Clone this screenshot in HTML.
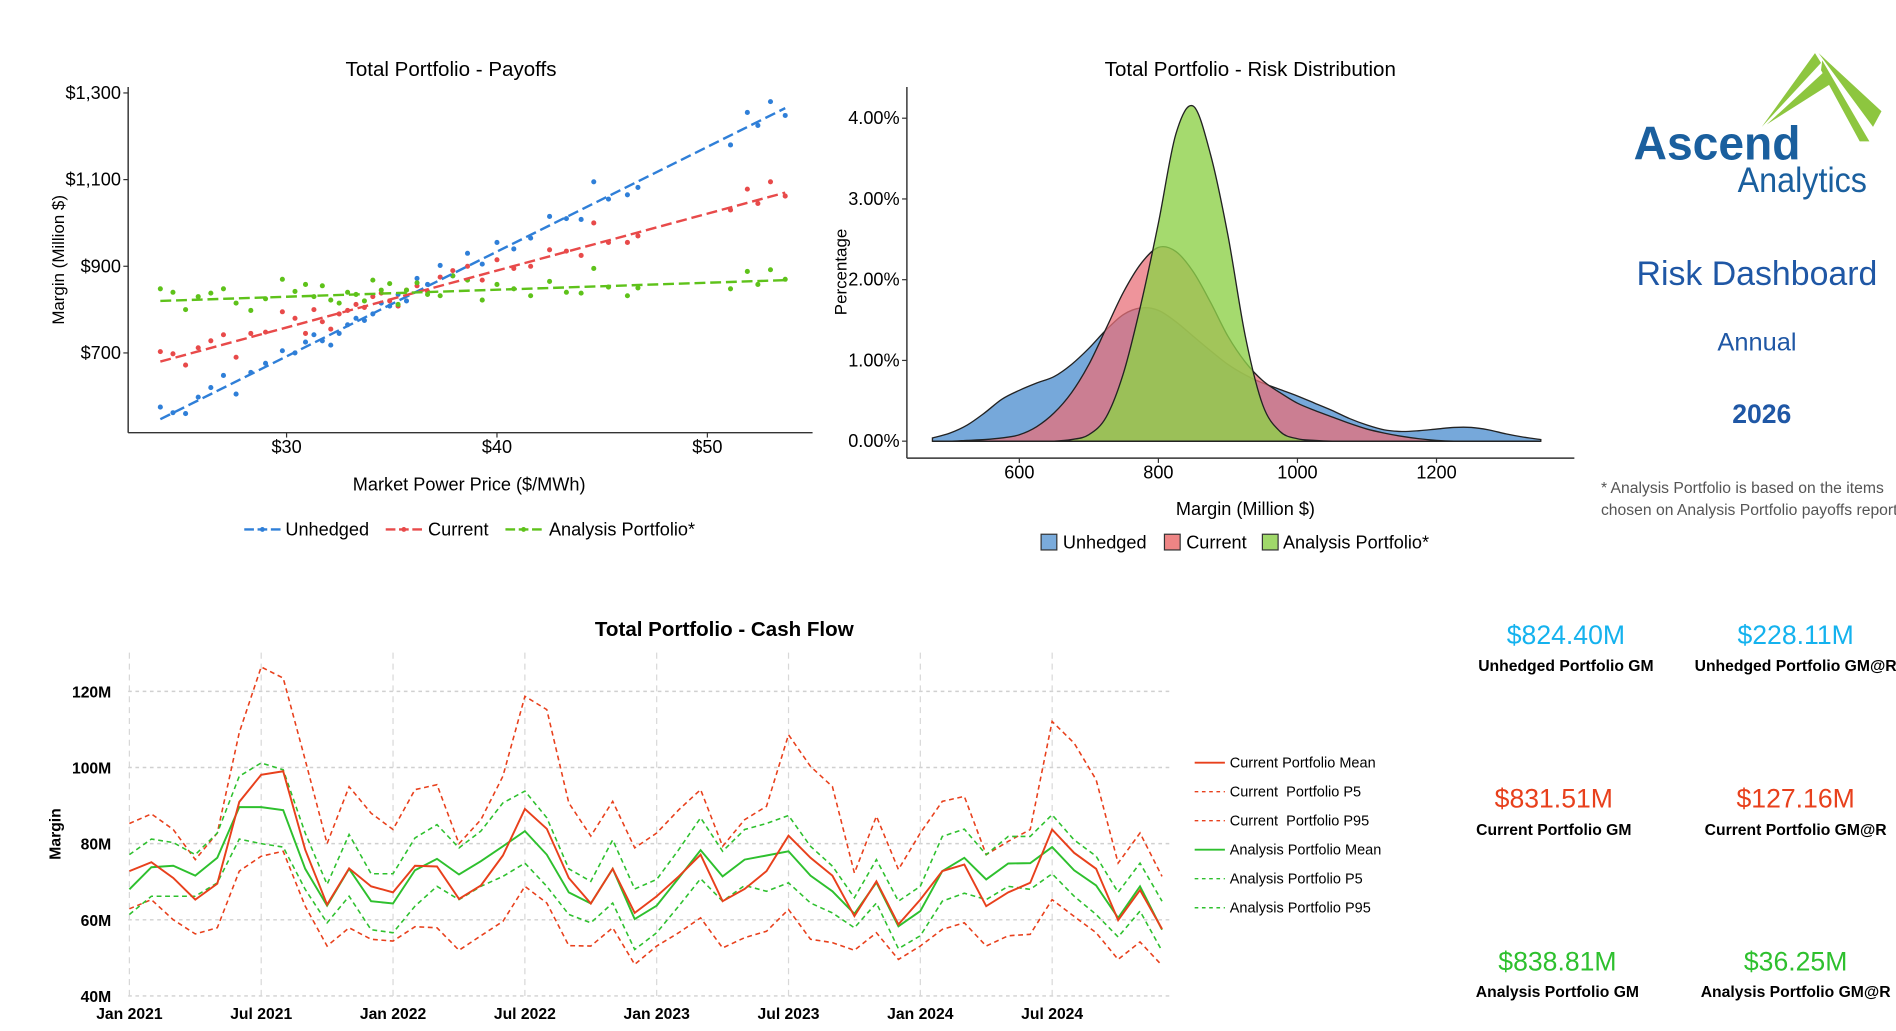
<!DOCTYPE html>
<html><head><meta charset="utf-8"><style>
html,body{margin:0;padding:0;background:#fff;}
svg{display:block;font-family:"Liberation Sans",sans-serif;}
.n{font-family:"Liberation Sans Narrow","Liberation Sans",sans-serif;}
</style></head><body>
<svg id="root" width="1896" height="1031" viewBox="0 0 1568 853" preserveAspectRatio="none">
<rect width="1568" height="853" fill="#fff"/>
<g id="payoffs">
  <text class="n" x="373" y="63" font-size="17" text-anchor="middle">Total Portfolio - Payoffs</text>
  <line x1="106" y1="72" x2="106" y2="358" stroke="#333" stroke-width="1.2"/>
  <line x1="106" y1="358" x2="672" y2="358" stroke="#333" stroke-width="1.2"/>
  <text x="53" y="215" font-size="14" text-anchor="middle" transform="rotate(-90 53 215)">Margin (Million $)</text>
  <text class="n" x="388" y="406" font-size="15" text-anchor="middle">Market Power Price ($/MWh)</text>
  <g>
    <g><line x1="202" y1="438" x2="232" y2="438" stroke="#2f7fd8" stroke-width="2" stroke-dasharray="8 3"/><circle cx="217" cy="438" r="2" fill="#2f7fd8"/><text class="n" x="236" y="443" font-size="15">Unhedged</text></g>
    <g><line x1="319" y1="438" x2="349" y2="438" stroke="#e84a4a" stroke-width="2" stroke-dasharray="8 3"/><circle cx="334" cy="438" r="2" fill="#e84a4a"/><text class="n" x="354" y="443" font-size="15">Current</text></g>
    <g><line x1="418" y1="438" x2="448" y2="438" stroke="#5ec21a" stroke-width="2" stroke-dasharray="8 3"/><circle cx="433" cy="438" r="2" fill="#5ec21a"/><text class="n" x="454" y="443" font-size="15">Analysis Portfolio*</text></g>
  </g>
</g>
<g id="risk">
  <text class="n" x="1034" y="63" font-size="17" text-anchor="middle">Total Portfolio - Risk Distribution</text>
  <text x="700" y="225" font-size="14" text-anchor="middle" transform="rotate(-90 700 225)">Percentage</text>
  <text class="n" x="1030" y="426" font-size="15" text-anchor="middle">Margin (Million $)</text>
  <g>
    <g><rect x="861" y="442" width="13" height="13" fill="#7aabdb" stroke="#333"/><text class="n" x="879" y="454" font-size="15">Unhedged</text></g>
    <g><rect x="963" y="442" width="13" height="13" fill="#ee8585" stroke="#333"/><text class="n" x="981" y="454" font-size="15">Current</text></g>
    <g><rect x="1044" y="442" width="13" height="13" fill="#a0d86a" stroke="#333"/><text class="n" x="1061" y="454" font-size="15">Analysis Portfolio*</text></g>
  </g>
</g>
<g id="cash">
  <text class="n" x="599" y="526" font-size="17" font-weight="bold" text-anchor="middle">Total Portfolio - Cash Flow</text>
  <text x="50" y="690" font-size="13" font-weight="bold" text-anchor="middle" transform="rotate(-90 50 690)">Margin</text>
</g>
<g font-size="12">
  <g><line x1="988" y1="631" x2="1013" y2="631" stroke="#e8401c" stroke-width="1.5"/><text x="1017" y="635">Current Portfolio Mean</text></g>
  <g><line x1="988" y1="655" x2="1013" y2="655" stroke="#e8401c" stroke-width="1.2" stroke-dasharray="3 3"/><text x="1017" y="659" xml:space="preserve">Current  Portfolio P5</text></g>
  <g><line x1="988" y1="679" x2="1013" y2="679" stroke="#e8401c" stroke-width="1.2" stroke-dasharray="3 3"/><text x="1017" y="683" xml:space="preserve">Current  Portfolio P95</text></g>
  <g><line x1="988" y1="703" x2="1013" y2="703" stroke="#2ec02e" stroke-width="1.5"/><text x="1017" y="707">Analysis Portfolio Mean</text></g>
  <g><line x1="988" y1="727" x2="1013" y2="727" stroke="#2ec02e" stroke-width="1.2" stroke-dasharray="3 3"/><text x="1017" y="731">Analysis Portfolio P5</text></g>
  <g><line x1="988" y1="751" x2="1013" y2="751" stroke="#2ec02e" stroke-width="1.2" stroke-dasharray="3 3"/><text x="1017" y="755">Analysis Portfolio P95</text></g>
</g>
<g>
  <polygon points="1457,105 1501,44 1506,52" fill="#8dc63f"/>
  <polygon points="1461,103 1509,59 1513,70" fill="#8dc63f"/>
  <polygon points="1504,44 1556,92 1549,105" fill="#8dc63f"/>
  <polygon points="1507,50 1546,117 1538,117 1506,58" fill="#8dc63f"/>
  <text x="1351" y="132" font-size="39" font-weight="bold" fill="#1a5f9e" textLength="138" lengthAdjust="spacingAndGlyphs">Ascend</text>
  <text x="1437" y="159" font-size="29" fill="#1a5f9e" textLength="107" lengthAdjust="spacingAndGlyphs">Analytics</text>
</g>
<text x="1453" y="236" font-size="28" fill="#1f57a5" text-anchor="middle">Risk Dashboard</text>
<text x="1453" y="290" font-size="21" fill="#1f57a5" text-anchor="middle">Annual</text>
<text x="1457" y="350" font-size="22" font-weight="bold" fill="#1f57a5" text-anchor="middle">2026</text>
<text x="1324" y="408" font-size="13" fill="#555">* Analysis Portfolio is based on the items</text>
<text x="1324" y="426" font-size="13" fill="#555">chosen on Analysis Portfolio payoffs report</text>
<g text-anchor="middle">
  <text x="1295" y="533" font-size="22" fill="#14b2ee">$824.40M</text>
  <text x="1295" y="555" font-size="13" font-weight="bold">Unhedged Portfolio GM</text>
  <text x="1485" y="533" font-size="22" fill="#14b2ee">$228.11M</text>
  <text x="1485" y="555" font-size="13" font-weight="bold">Unhedged Portfolio GM@R</text>
  <text x="1285" y="668" font-size="22" fill="#e8401c">$831.51M</text>
  <text x="1285" y="691" font-size="13" font-weight="bold">Current Portfolio GM</text>
  <text x="1485" y="668" font-size="22" fill="#e8401c">$127.16M</text>
  <text x="1485" y="691" font-size="13" font-weight="bold">Current Portfolio GM@R</text>
  <text x="1288" y="803" font-size="22" fill="#2ec02e">$838.81M</text>
  <text x="1288" y="825" font-size="13" font-weight="bold">Analysis Portfolio GM</text>
  <text x="1485" y="803" font-size="22" fill="#2ec02e">$36.25M</text>
  <text x="1485" y="825" font-size="13" font-weight="bold">Analysis Portfolio GM@R</text>
</g>
</svg>
<script>
// ---------- Payoffs data ----------
const payPrices = [24.0,24.6,25.2,25.8,26.4,27.0,27.6,28.3,29.0,29.8,30.4,30.9,31.3,31.7,32.1,32.5,32.9,33.3,33.7,34.1,34.5,34.9,35.3,35.7,36.2,36.7,37.3,37.9,38.6,39.3,40.0,40.8,41.6,42.5,43.3,44.0,44.6,45.3,46.2,46.7,51.1,51.9,52.4,53.0,53.7];
const payUnhedged = [575,562,560,598,620,648,605,655,676,705,700,725,742,728,718,745,765,780,775,790,815,808,835,820,872,858,902,878,930,905,955,940,965,1015,1010,1008,1095,1055,1065,1082,1180,1255,1225,1280,1248];
const payCurrent = [703,698,672,712,728,742,690,745,748,795,780,745,800,772,755,790,798,812,805,830,838,820,808,845,855,842,875,890,900,868,915,895,900,938,935,925,1000,955,955,970,1030,1078,1045,1095,1062];
const payAnalysis = [848,840,800,830,838,848,815,798,825,870,842,858,830,855,822,815,840,835,820,868,845,860,812,845,862,835,832,878,868,822,858,848,832,865,840,838,895,852,832,850,848,888,858,892,870];
const trendPriceRange = [24, 53.7];
const trendStart = [547, 680, 820];
const trendEnd = [1265, 1070, 868];
const payYTicks = [700, 900, 1100, 1300];
const payYTickLabels = ["$700","$900","$1,100","$1,300"];
const payXTicks = [30, 40, 50];
const payXTickLabels = ["$30","$40","$50"];

// ---------- Risk density data ----------
const riskGrid = [475,500,525,550,575,600,625,650,675,700,725,750,775,800,825,850,875,900,925,950,975,1000,1025,1050,1075,1100,1125,1150,1175,1200,1225,1250,1275,1300,1325,1350];
const densUnhedged = [0.04,0.1,0.2,0.35,0.52,0.63,0.72,0.8,0.95,1.15,1.38,1.57,1.65,1.62,1.48,1.3,1.12,0.95,0.82,0.72,0.64,0.56,0.47,0.38,0.28,0.2,0.14,0.12,0.13,0.15,0.17,0.17,0.14,0.09,0.05,0.02];
const densCurrent = [0,0,0.01,0.02,0.04,0.08,0.18,0.35,0.6,0.95,1.4,1.85,2.2,2.4,2.35,2.1,1.72,1.3,0.98,0.75,0.6,0.47,0.38,0.3,0.22,0.15,0.1,0.06,0.03,0.01,0,0,0,0,0,0];
const densAnalysis = [0,0,0,0,0,0,0,0,0.02,0.08,0.3,0.85,1.7,2.7,3.8,4.15,3.55,2.55,1.3,0.45,0.12,0.03,0.01,0,0,0,0,0,0,0,0,0,0,0,0,0];
const riskYTicks = [0,1,2,3,4];
const riskYTickLabels = ["0.00%","1.00%","2.00%","3.00%","4.00%"];
const riskXTicks = [600,800,1000,1200];
const riskXTickLabels = ["600","800","1000","1200"];

// ---------- Cash flow data (Jan 2021 .. Dec 2024, $M) ----------
const cashCurrentMean = [72.8,75.1,71,65.3,69.5,91,98.1,99,78.4,64,73.5,68.8,67.2,74.2,74,65.5,69,76.9,89.1,83.9,71,64.3,73.4,61.8,66.2,71.4,77.1,64.9,68.1,72.8,82.1,76.3,71.6,61,70.1,58.8,65.3,72.8,74.5,63.6,67.2,69.7,83.7,77.6,73.4,59.9,67.8,57.6];
const cashCurrentP95 = [85.3,87.8,83.7,75.8,82.8,109.2,126.4,123.5,102,80,95,88,83.7,94.2,95.5,80,86.3,97.7,118.7,115.2,90.7,82,91.1,78.9,82.8,88.9,94.2,79.3,86.3,89.8,108.6,100.3,95,72.3,87.2,73.2,82.8,91.1,92.4,77.1,80.6,83.7,112.1,106.4,96.8,74.9,82.8,71.4];
const cashCurrentP5 = [62.9,65.3,60,56.3,57.9,72.8,76.7,78,63.6,53.1,57.9,54.9,54.4,58.2,57.9,52,55.8,59.6,68.8,64.4,53.2,53.1,57.9,48.3,53.1,56.6,60.5,52.6,55.3,57,62.7,54.9,54,52,56.6,49.6,53.1,57.5,59.2,53.1,55.8,56.2,65.3,60.9,56.6,49.6,54.2,48];
const cashAnalysisMean = [68,73.8,74.2,71.6,76.3,89.6,89.6,88.8,73.4,63.7,73.4,64.9,64.3,73,76,71.9,75.4,79.3,83.3,77.1,67.2,64.3,73.4,60.2,63.7,71,78.3,71.4,75.8,76.9,78,71.6,67.5,61.6,69.8,58.3,62.3,72.8,76.3,70.6,74.8,74.9,79.1,73,69,60.5,68.8,57.4];
const cashAnalysisP95 = [77.1,81.2,80.3,77.1,82.8,97.7,101.2,99.4,82.8,69.3,82.4,72.1,72.1,81.5,85,78.9,83.3,90.7,93.8,86.8,73.4,70.1,81,68.1,70.6,78.4,86.8,78,83.7,85.3,87.4,79.3,74.1,65.8,75.8,64.9,68.8,81.9,83.8,77.1,81.9,81.9,87.6,81,76.7,67.2,74.9,64.9];
const cashAnalysisP5 = [61.4,66.2,66.2,66.2,69.7,81.2,80,79.1,68,59.2,66.2,57.4,56.6,63.6,68.8,65.3,68.8,71.4,74.9,68.8,61.4,59.2,64.4,52.2,56.6,63.6,70.8,64.9,69,67.5,69.7,64.4,61.8,57.9,64.4,52.4,55.8,64.9,67,65.3,68.8,68,72.1,66.2,61.4,55.5,62.3,51.8];
const cashYTicks = [40,60,80,100,120];
const cashYTickLabels = ["40M","60M","80M","100M","120M"];
const cashXTickMonths = [0,6,12,18,24,30,36,42];
const cashXTickLabels = ["Jan 2021","Jul 2021","Jan 2022","Jul 2022","Jan 2023","Jul 2023","Jan 2024","Jul 2024"];

const NS = "http://www.w3.org/2000/svg";
function mk(parent, tag, attrs, text){
  const e = document.createElementNS(NS, tag);
  for (const k in attrs) e.setAttribute(k, attrs[k]);
  if (text !== undefined) e.textContent = text;
  parent.appendChild(e);
  return e;
}

// ---------- Payoffs ----------
(function(){
  const g = document.getElementById('payoffs');
  const px = p => 237 + (p - 30) * 17.4;
  const py = v => 292 - (v - 700) * 0.3585;
  payYTicks.forEach((t,i)=>{
    const tk = mk(g,'line',{x1:102,x2:106,y1:py(t),y2:py(t),stroke:'#333'});
    
    
    const lb = mk(g,'text',{x:100,y:py(t)+5,'font-size':15,'text-anchor':'end','class':'n'},payYTickLabels[i]);
    
    
  });
  payXTicks.forEach((t,i)=>{
    const tk = mk(g,'line',{x1:px(t),x2:px(t),y1:358,y2:362,stroke:'#333'});
    
    
    const lb = mk(g,'text',{x:px(t),y:375,'font-size':15,'text-anchor':'middle','class':'n'},payXTickLabels[i]);
    
    
  });
  const series = [[payUnhedged,'#2f7fd8','unhedged'],[payCurrent,'#e84a4a','current'],[payAnalysis,'#5ec21a','analysis']];
  series.forEach(([vals,col,nm],si)=>{
    vals.forEach((v,i)=>{
      const c = mk(g,'circle',{cx:px(payPrices[i]),cy:py(v),r:2.1,fill:col});
      
      
    });
  });
  series.forEach(([vals,col,nm],si)=>{
    const l = mk(g,'line',{x1:px(trendPriceRange[0]),y1:py(trendStart[si]),x2:px(trendPriceRange[1]),y2:py(trendEnd[si]),stroke:col,'stroke-width':2,'stroke-dasharray':'9 4'});
    
    
  });
})();

// ---------- Risk distribution ----------
(function(){
  const g = document.getElementById('risk');
  const rx = m => 843 + (m - 600) * 0.575;
  const ry = d => 365 - d * 66.8;
  mk(g,'line',{x1:750,y1:72,x2:750,y2:379,stroke:'#333','stroke-width':1.2});
  mk(g,'line',{x1:750,y1:379,x2:1302,y2:379,stroke:'#333','stroke-width':1.2});
  riskYTicks.forEach((t,i)=>{
    mk(g,'line',{x1:746,x2:750,y1:ry(t),y2:ry(t),stroke:'#333'});
    const lb = mk(g,'text',{x:744,y:ry(t)+5,'font-size':15,'text-anchor':'end','class':'n'},riskYTickLabels[i]);
    
    
  });
  riskXTicks.forEach((t,i)=>{
    mk(g,'line',{x1:rx(t),x2:rx(t),y1:379,y2:383,stroke:'#333'});
    const lb = mk(g,'text',{x:rx(t),y:396,'font-size':15,'text-anchor':'middle','class':'n'},riskXTickLabels[i]);
    
    
  });
  function smoothPath(xs, ys){
    let d = 'M'+xs[0]+','+ry(0)+' L'+xs[0]+','+ys[0];
    for (let i=0;i<xs.length-1;i++){
      const x0=xs[Math.max(i-1,0)], y0=ys[Math.max(i-1,0)];
      const x1=xs[i], y1=ys[i], x2=xs[i+1], y2=ys[i+1];
      const x3=xs[Math.min(i+2,xs.length-1)], y3=ys[Math.min(i+2,xs.length-1)];
      const c1x=x1+(x2-x0)/6, c1y=Math.min(y1+(y2-y0)/6, ry(0));
      const c2x=x2-(x3-x1)/6, c2y=Math.min(y2-(y3-y1)/6, ry(0));
      d += ' C'+c1x+','+c1y+' '+c2x+','+c2y+' '+x2+','+y2;
    }
    d += ' L'+xs[xs.length-1]+','+ry(0)+' Z';
    return d;
  }
  const xs = riskGrid.map(rx);
  const dens = [[densUnhedged,'#6fa3d8',0.95,'unhedged'],[densCurrent,'#e8707a',0.75,'current'],[densAnalysis,'#8fd14a',0.8,'analysis']];
  dens.forEach(([vals,col,op,nm])=>{
    const p = mk(g,'path',{d:smoothPath(xs, vals.map(ry)),fill:col,'fill-opacity':op,stroke:'#222','stroke-width':1.1});
    
    
  });
})();

// ---------- Cash flow ----------
(function(){
  const g = document.getElementById('cash');
  const cx = i => 107 + i * 18.17;
  const cy = v => 824 - (v - 40) * 3.15;
  cashYTicks.forEach((t,i)=>{
    const gl = mk(g,'line',{x1:106,x2:970,y1:cy(t),y2:cy(t),stroke:'#d0d0d0','stroke-width':1.2,'stroke-dasharray':'3 3'});
    
    
    const lb = mk(g,'text',{x:92,y:cy(t)+5,'font-size':13,'text-anchor':'end','class':'n','font-weight':'bold'},cashYTickLabels[i]);
    
    
  });
  cashXTickMonths.forEach((m,i)=>{
    const gl = mk(g,'line',{x1:cx(m),x2:cx(m),y1:540,y2:826,stroke:'#d8d8d8','stroke-width':1,'stroke-dasharray':'5 4'});
    
    
    const lb = mk(g,'text',{x:cx(m),y:843,'font-size':13,'text-anchor':'middle','class':'n','font-weight':'bold'},cashXTickLabels[i]);
    
    
  });
  const lines = [
    [cashCurrentP95,'#e8401c',true,'current-p95'],
    [cashCurrentP5,'#e8401c',true,'current-p5'],
    [cashAnalysisP95,'#2ec02e',true,'analysis-p95'],
    [cashAnalysisP5,'#2ec02e',true,'analysis-p5'],
    [cashAnalysisMean,'#2ec02e',false,'analysis-mean'],
    [cashCurrentMean,'#e8401c',false,'current-mean']
  ];
  lines.forEach(([vals,col,dash,nm])=>{
    const pts = vals.map((v,i)=>cx(i).toFixed(1)+','+cy(v).toFixed(1)).join(' ');
    const attrs = {points:pts,fill:'none',stroke:col,'stroke-width':dash?1.3:1.6};
    if (dash) attrs['stroke-dasharray'] = '4 3';
    const pl = mk(g,'polyline',attrs);
    
    
  });
})();
</script>
</body></html>
